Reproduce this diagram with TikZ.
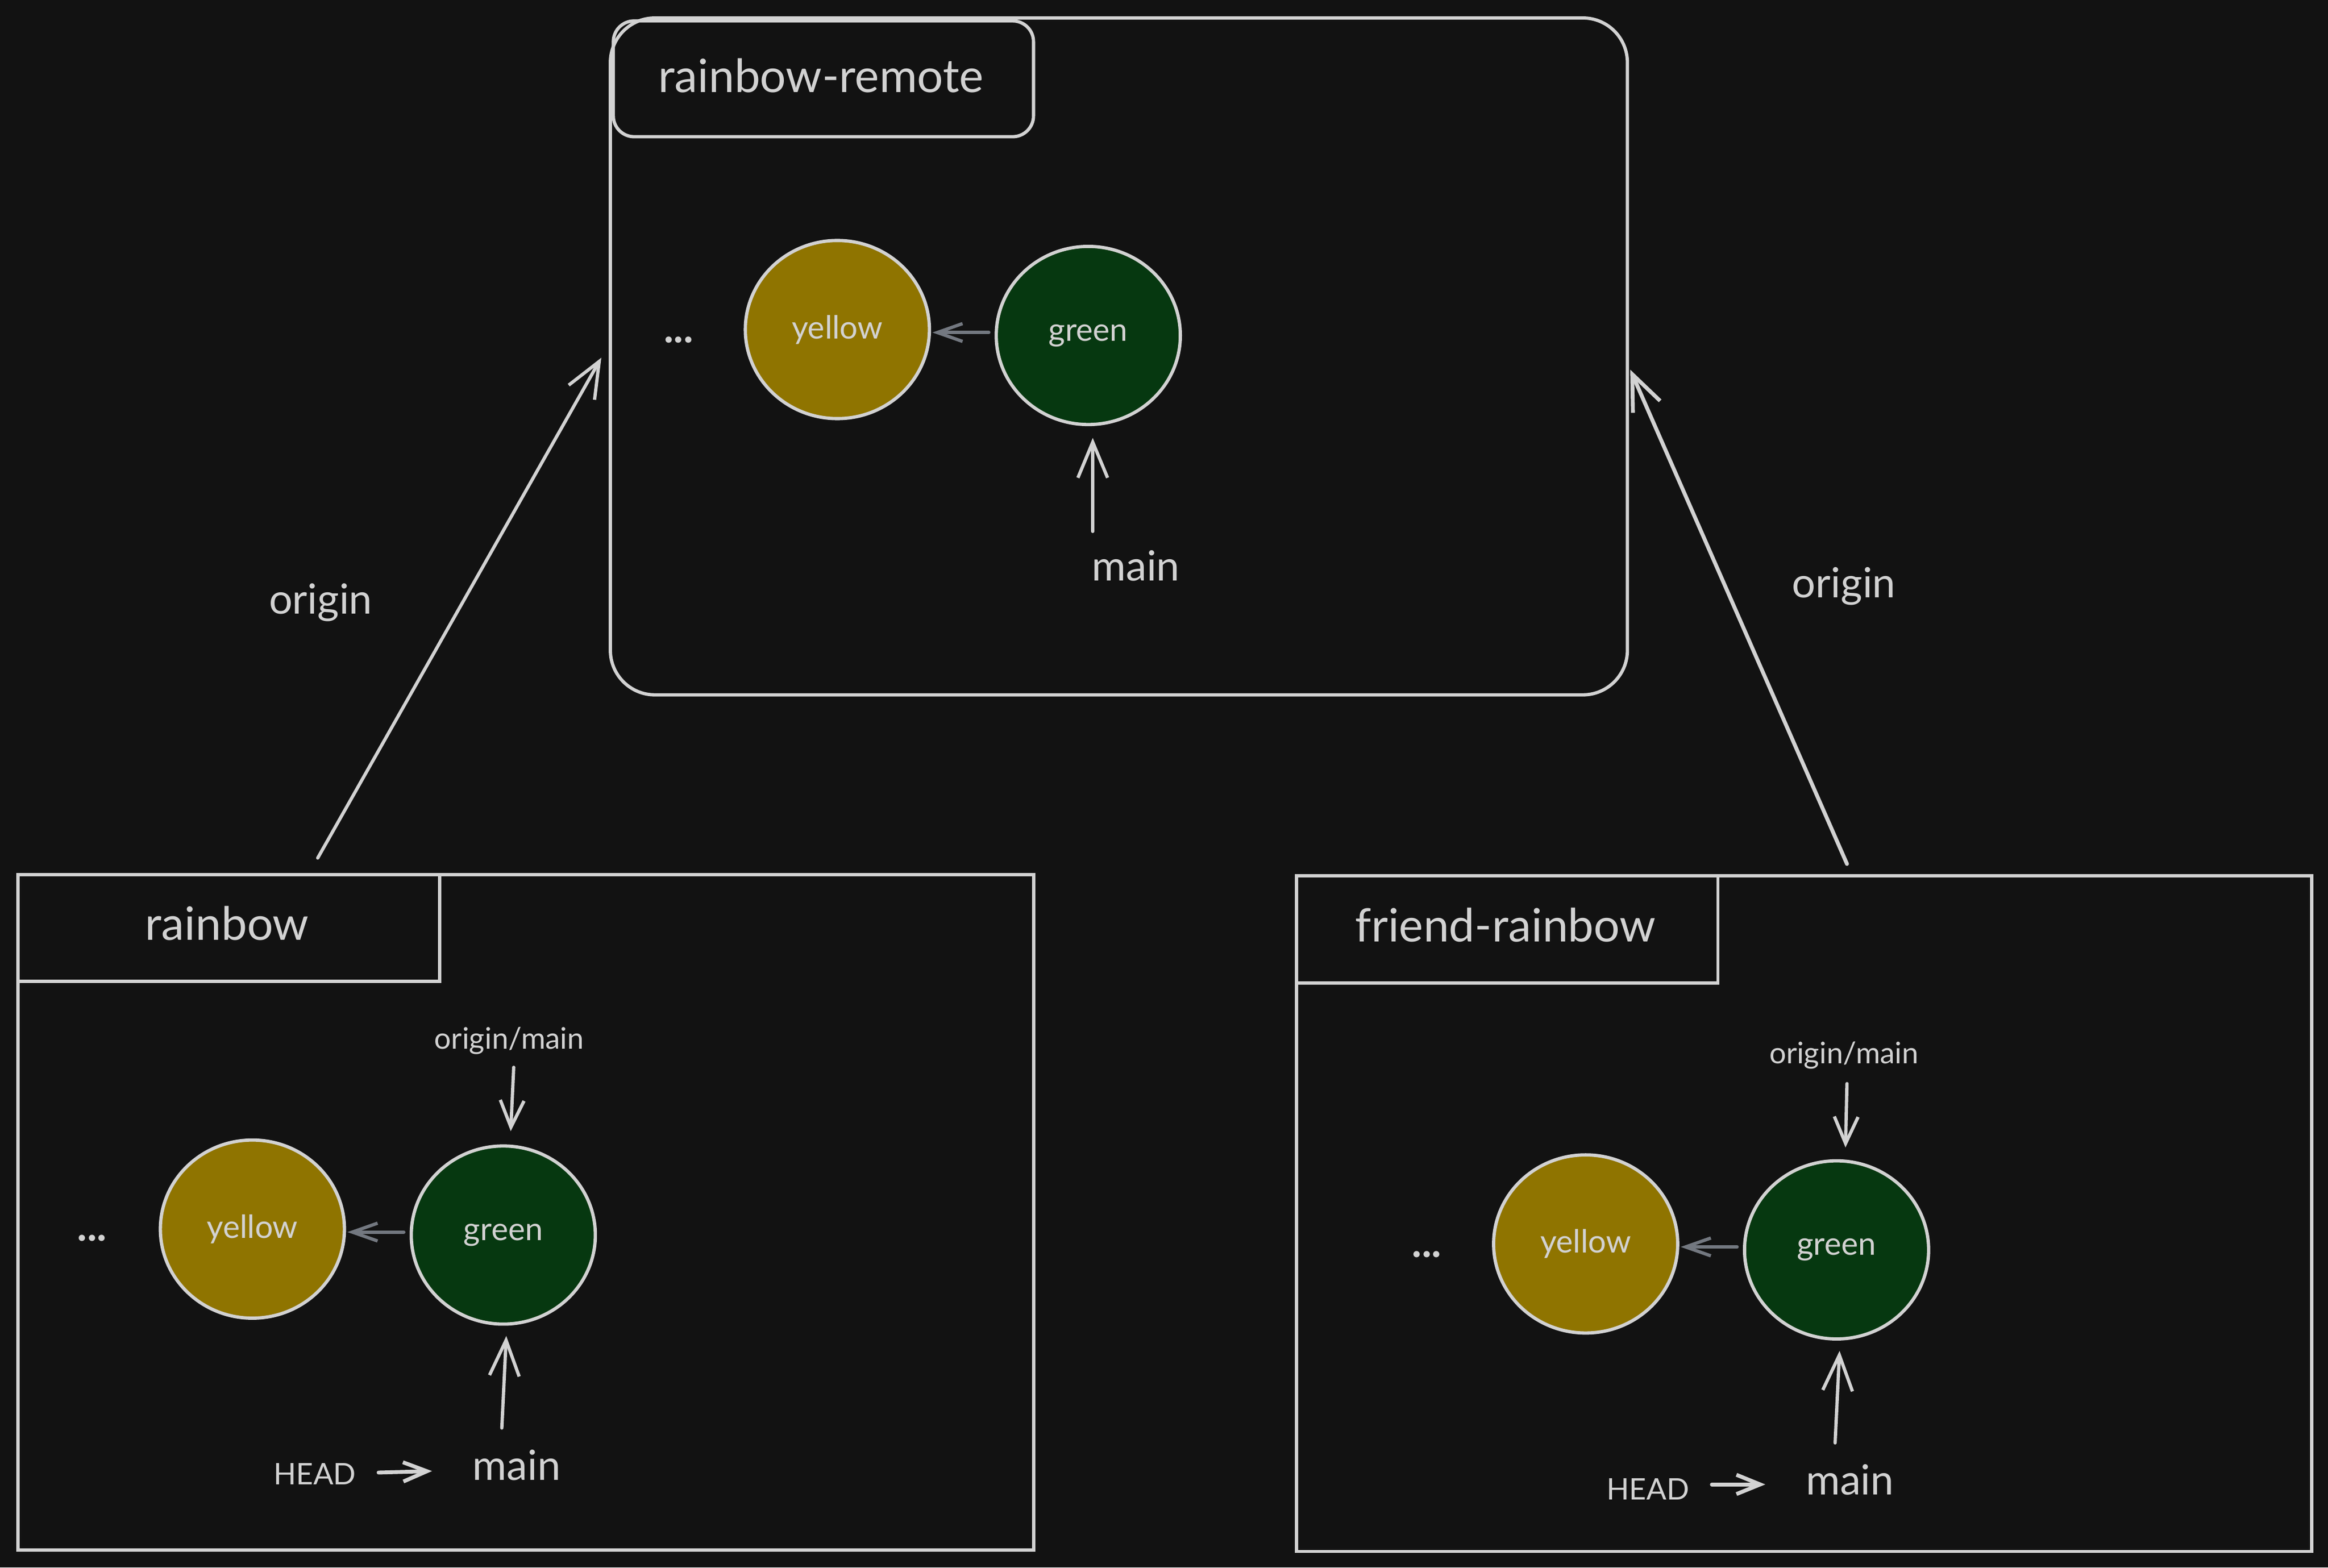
\documentclass[tikz,border=0pt]{standalone}
\usepackage{fontspec}
\setmainfont{Lato}
\usetikzlibrary{arrows.meta,shapes.geometric}
\definecolor{bg}{HTML}{121212}
\definecolor{ink}{HTML}{D2D2D2}
\definecolor{muted}{HTML}{737880}
\definecolor{yfill}{HTML}{8F7400}
\definecolor{gfill}{HTML}{063810}
\begin{document}
\begin{tikzpicture}[x=1pt,y=-1pt,
  frame/.style={draw=ink, line width=2.2pt, inner sep=0pt, anchor=north west},
  commit/.style={ellipse, draw=ink, line width=2.2pt, minimum width=124pt, minimum height=120pt, inner sep=0pt, text=ink, font=\fontsize{21.5}{24}\selectfont},
  lbl/.style={text=ink, inner sep=0pt},
  title/.style={lbl, font=\fontsize{31}{36}\selectfont},
  big/.style={lbl, font=\fontsize{28}{32}\selectfont},
  small/.style={lbl, font=\fontsize{20}{24}\selectfont},
  ptr/.style={draw=ink, line width=2.2pt, line cap=round, -{Straight Barb[length=18pt,width=16pt,line width=2.2pt]}},
  ptrmain/.style={draw=ink, line width=2.2pt, line cap=round, -{Straight Barb[length=24pt,width=20pt,line width=2.2pt]}},
  ptrhead/.style={draw=ink, line width=2.6pt, line cap=round, -{Straight Barb[length=16pt,width=13pt,line width=2.6pt]}},
  ptrbig/.style={draw=ink, line width=2.6pt, line cap=round, -{Straight Barb[length=24pt,width=20pt,line width=2.6pt]}},
  parent/.style={draw=muted, line width=2.2pt, line cap=round, -{Straight Barb[length=17pt,width=12pt,line width=2.2pt]}}
]
\fill[bg] (0,0) rectangle (1568,1056);
\useasboundingbox (0,0) rectangle (1568,1056);

% ---------- remote ----------
\node[frame, rounded corners=30pt, minimum width=685pt, minimum height=456pt] (remote) at (410,11) {};
\node[frame, rounded corners=14pt, minimum width=283pt, minimum height=78pt] (remotetab) at (412,13) {};
\node[title] (tremote) at (553,51) {rainbow-remote};
\node[big, font=\bfseries\fontsize{28}{32}\selectfont] (rdots) at (457,229) {...};
\node[commit, fill=yfill] (ry) at (564,222) {yellow};
\node[commit, fill=gfill] (rg) at (733,226) {green};
\node[big] (rmain) at (765,381) {main};
\coordinate (rms) at (736,358);
\coordinate (rme) at (736,295);
\draw[ptrmain] (rms) -- (rme);
\coordinate (rps) at (666,224);
\coordinate (rpe) at (628,224);
\draw[parent] (rps) -- (rpe);

% ---------- rainbow ----------
\node[frame, minimum width=684pt, minimum height=455pt] (local) at (11,588) {};
\node[frame, minimum width=284pt, minimum height=72pt] (localtab) at (11,588) {};
\node[title] (tlocal) at (153,622) {rainbow};
\node[big, font=\bfseries\fontsize{28}{32}\selectfont] (ldots) at (62,834) {...};
\node[commit, fill=yfill] (ly) at (170,828) {yellow};
\node[commit, fill=gfill] (lg) at (339,832) {green};
\node[small] (lorig) at (343,701) {origin/main};
\coordinate (los) at (346,719);
\coordinate (loe) at (344,762);
\draw[ptr] (los) -- (loe);
\node[big] (lmain) at (348,987) {main};
\coordinate (lms) at (338,962);
\coordinate (lme) at (341,900);
\draw[ptrmain] (lms) -- (lme);
\node[small] (lhead) at (212,993) {HEAD};
\coordinate (lhs) at (255,992);
\coordinate (lhe) at (291,991);
\draw[ptrhead] (lhs) -- (lhe);
\coordinate (lps) at (272,830);
\coordinate (lpe) at (234,830);
\draw[parent] (lps) -- (lpe);

% ---------- friend-rainbow ----------
\node[frame, minimum width=684pt, minimum height=455pt] (friend) at (872,589) {};
\node[frame, minimum width=284pt, minimum height=72pt] (friendtab) at (872,589) {};
\node[title] (tfriend) at (1014,623) {friend-rainbow};
\node[big, font=\bfseries\fontsize{28}{32}\selectfont] (fdots) at (961,845) {...};
\node[commit, fill=yfill] (fy) at (1068,838) {yellow};
\node[commit, fill=gfill] (fg) at (1237,842) {green};
\node[small] (forig) at (1242,711) {origin/main};
\coordinate (fos) at (1244,730);
\coordinate (foe) at (1243,773);
\draw[ptr] (fos) -- (foe);
\node[big] (fmain) at (1246,997) {main};
\coordinate (fms) at (1236,972);
\coordinate (fme) at (1239,910);
\draw[ptrmain] (fms) -- (fme);
\node[small] (fhead) at (1110,1003) {HEAD};
\coordinate (fhs) at (1153,1000);
\coordinate (fhe) at (1189,1000);
\draw[ptrhead] (fhs) -- (fhe);
\coordinate (fps) at (1170,840);
\coordinate (fpe) at (1132,840);
\draw[parent] (fps) -- (fpe);

% ---------- origin links ----------
\coordinate (lo1) at (214,578);
\coordinate (lo2) at (405,241);
\draw[ptrmain] (lo1) -- (lo2);
\node[big] (lorigin) at (216,406) {origin};
\coordinate (fo1) at (1244,582);
\coordinate (fo2) at (1098,249);
\draw[ptrbig] (fo1) -- (fo2);
\node[big] (forigin) at (1242,395) {origin};
\end{tikzpicture}
\end{document}
